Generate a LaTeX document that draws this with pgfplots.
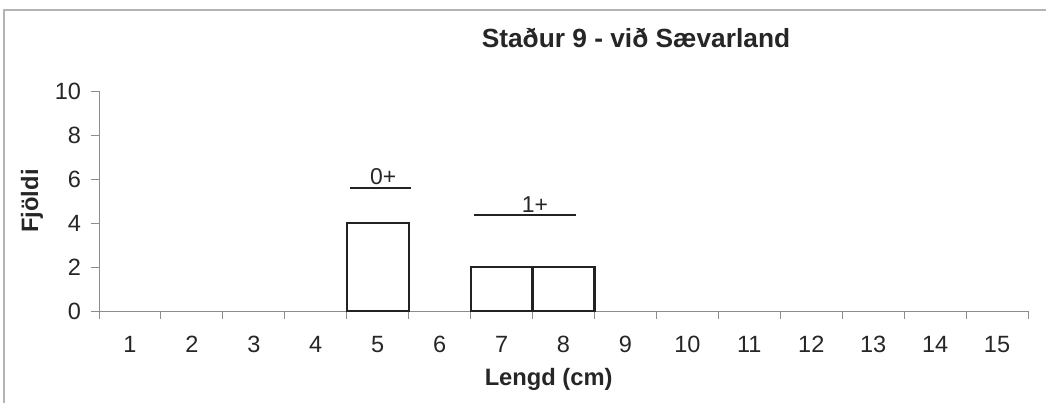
\documentclass[border=0pt]{standalone}
\usepackage{fontspec}
\setmainfont{Liberation Sans}
\usepackage{pgfplots}
\pgfplotsset{compat=1.18}

\definecolor{axisgray}{HTML}{8C8C8C}
\definecolor{framegray}{HTML}{B4B4B4}
\definecolor{barline}{HTML}{222222}

\begin{document}
\begin{tikzpicture}[x=1bp,y=1bp]
\useasboundingbox (0,0) rectangle (523,201.5);
% frame of the chart (only left and top edges are visible in the scan)
\draw[framegray, line width=0.6bp] (2,0) -- (2,196.5) -- (523,196.5);

\begin{axis}[
    at={(49.5bp,46bp)}, anchor=south west,
    scale only axis,
    width=464.5bp, height=110bp,
    xmin=0.5, xmax=15.5,
    ymin=0, ymax=10,
    axis lines=left,
    axis line style={-, axisgray, line width=0.5bp},
    xtick={1,...,15},
    major x tick style={draw=none},
    minor xtick={0.5,1.5,...,15.5},
    ytick={0,2,...,10},
    tick align=outside,
    tick style={axisgray, line width=0.5bp},
    major tick length=4bp, minor tick length=4bp,
    /pgf/number format/assume math mode=true,
    tick label style={font=\fontsize{11.8}{14}\selectfont, text=black!85},
    xticklabel style={yshift=-5bp},
    yticklabel style={xshift=-1.5bp},
    xlabel={Lengd (cm)},
    ylabel={Fjöldi},
    label style={font=\fontsize{11.9}{14}\selectfont\bfseries, text=black!85},
    xlabel style={at={(axis description cs:0.484,0)}, anchor=base, yshift=-37bp},
    ylabel style={at={(axis description cs:-0.072,0.5)}, anchor=center},
    title={Staður 9 - við Sævarland},
    title style={at={(axis description cs:0.578,1.2)}, anchor=base, yshift=-6pt,
        font=\fontsize{13.2}{15}\selectfont\bfseries, text=black!85},
    clip=false,
]
\addplot[ybar, bar width=1, draw=barline, fill=white, line width=1.1bp]
    coordinates {(5,4) (7,2) (8,2)};

% age group annotations
\draw[barline, line width=0.8bp] (axis cs:4.55,5.59) -- (axis cs:5.54,5.59);
\node[anchor=base, font=\fontsize{11.5}{13}\selectfont, text=black!85]
    at (axis cs:5.09,5.77) {0+};
\draw[barline, line width=0.8bp] (axis cs:6.56,4.36) -- (axis cs:8.2,4.36);
\node[anchor=base, font=\fontsize{11.5}{13}\selectfont, text=black!85]
    at (axis cs:7.54,4.5) {1+};
\end{axis}
\end{tikzpicture}
\end{document}
